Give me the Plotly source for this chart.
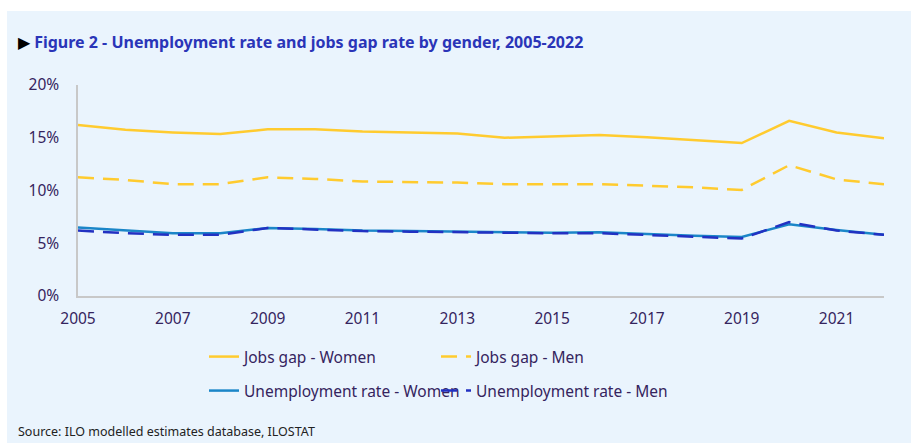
import plotly.graph_objects as go

years = list(range(2005, 2023))
jobs_gap_women = [16.2, 15.75, 15.5, 15.35, 15.8, 15.8, 15.6, 15.5, 15.4, 15.0, 15.15, 15.25, 15.05, 14.8, 14.5, 16.6, 15.5, 14.95]
jobs_gap_men = [11.25, 11.0, 10.6, 10.6, 11.25, 11.1, 10.85, 10.8, 10.75, 10.6, 10.6, 10.6, 10.45, 10.3, 10.05, 12.4, 11.05, 10.6]
unemp_women = [6.5, 6.2, 5.95, 5.95, 6.45, 6.35, 6.2, 6.15, 6.1, 6.0, 6.0, 6.05, 5.85, 5.7, 5.6, 6.8, 6.25, 5.8]
unemp_men = [6.2, 5.95, 5.8, 5.8, 6.45, 6.3, 6.15, 6.1, 6.05, 5.95, 5.95, 5.95, 5.8, 5.65, 5.45, 7.0, 6.2, 5.8]
y_ticks = [0, 5, 10, 15, 20]
y_tick_labels = ["0%", "5%", "10%", "15%", "20%"]

YELLOW = "#FFCB2F"
LBLUE = "#1B86C8"
DBLUE = "#2231C2"
TXT = "#35245E"
BG = "#EAF4FD"

fig = go.Figure()
fig.add_trace(go.Scatter(x=years, y=jobs_gap_women, mode="lines", name="Jobs gap - Women",
                         line=dict(color=YELLOW, width=2.5), legend="legend"))
fig.add_trace(go.Scatter(x=years, y=jobs_gap_men, mode="lines", name="Jobs gap - Men",
                         line=dict(color=YELLOW, width=2.5, dash="16px,9px"), legend="legend"))
fig.add_trace(go.Scatter(x=years, y=unemp_women, mode="lines", name="Unemployment rate - Women",
                         line=dict(color=LBLUE, width=2.5), legend="legend2"))
fig.add_trace(go.Scatter(x=years, y=unemp_men, mode="lines", name="Unemployment rate - Men",
                         line=dict(color=DBLUE, width=2.5, dash="16px,9px"), legend="legend2"))

W, H = 911, 443
L, R, T, B = 78, 27, 85, 147
pw, ph = W - L - R, H - T - B

def px_x(p):
    return (p - L) / pw

def px_y(p):
    return (H - B - p) / ph

fig.update_layout(
    width=W, height=H,
    margin=dict(l=L, r=R, t=T, b=B),
    paper_bgcolor=BG, plot_bgcolor=BG,
    font=dict(family="Noto Sans", color=TXT, size=14),
    showlegend=True,
    xaxis=dict(range=[2005, 2022], tickmode="array", tickvals=list(range(2005, 2022, 2)),
               showgrid=False, zeroline=False, showline=True, linecolor="#C8C8C8", linewidth=1.5,
               ticks="", tickfont=dict(size=15.5, color=TXT), ticklabelstandoff=8),
    yaxis=dict(range=[0, 20], tickmode="array", tickvals=y_ticks, ticktext=y_tick_labels,
               showgrid=False, zeroline=False, showline=True, linecolor="#C8C8C8", linewidth=1.5,
               ticks="", tickfont=dict(size=15.5, color=TXT), ticklabelstandoff=14),
    legend=dict(orientation="h", x=px_x(204), y=px_y(340), xanchor="left", yanchor="top",
                entrywidth=187, entrywidthmode="pixels", bgcolor="rgba(0,0,0,0)",
                font=dict(size=15.5, color=TXT), tracegroupgap=0),
    legend2=dict(orientation="h", x=px_x(204), y=px_y(374), xanchor="left", yanchor="top",
                 entrywidth=187, entrywidthmode="pixels", bgcolor="rgba(0,0,0,0)",
                 font=dict(size=15.5, color=TXT), tracegroupgap=0),
)

# white strips (page margin) on top and left
fig.add_shape(type="rect", xref="paper", yref="paper", x0=px_x(0), x1=px_x(W), y0=px_y(11), y1=px_y(0),
              fillcolor="white", line=dict(width=0), layer="below")
fig.add_shape(type="rect", xref="paper", yref="paper", x0=px_x(0), x1=px_x(7), y0=px_y(H), y1=px_y(0),
              fillcolor="white", line=dict(width=0), layer="below")

fig.add_annotation(xref="paper", yref="paper", x=px_x(16), y=px_y(42), xanchor="left", yanchor="middle",
                   showarrow=False, align="left",
                   text='<span style="color:#000000">\u25B6</span> <b>Figure 2 - Unemployment rate and jobs gap rate by gender, 2005-2022</b>',
                   font=dict(family="Noto Sans", size=16, color="#2A35B8"))
fig.add_annotation(xref="paper", yref="paper", x=px_x(16), y=px_y(442), xanchor="left", yanchor="bottom",
                   showarrow=False, align="left",
                   text="Source: ILO modelled estimates database, ILOSTAT",
                   font=dict(family="Noto Sans", size=12.5, color="#222222"))

fig.write_html("out.html")
